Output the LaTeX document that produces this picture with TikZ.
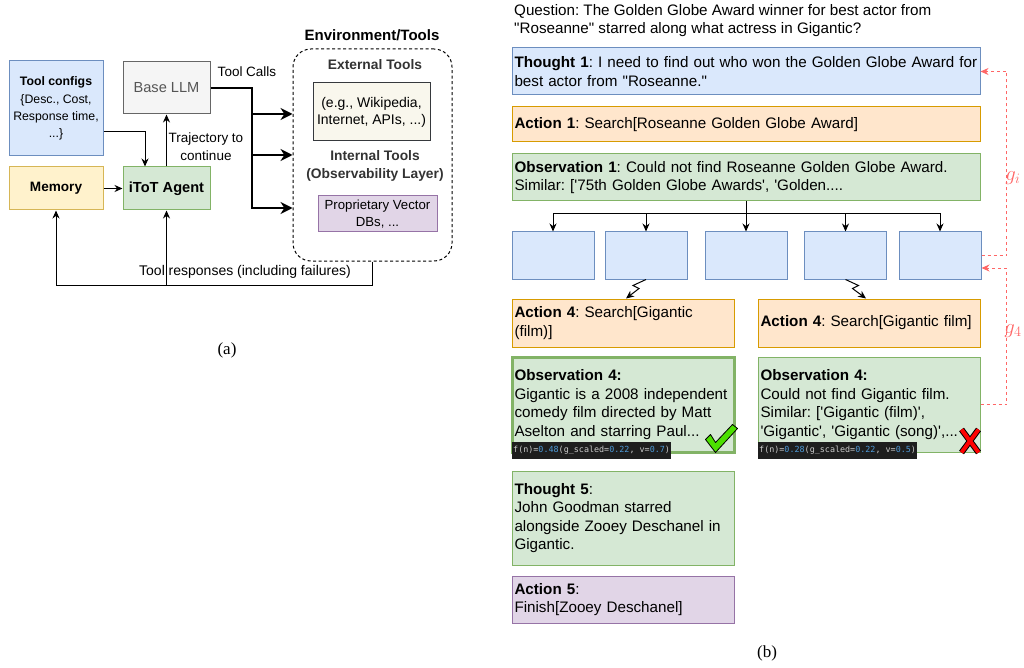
\documentclass[tikz,border=0pt]{standalone}
\usepackage{fontspec}
\setmainfont{Liberation Sans}
\newfontfamily\serifcap{Liberation Serif}
\newfontfamily\codefont{DejaVu Sans Mono}
\usetikzlibrary{arrows.meta,calc}

\definecolor{bluefill}{HTML}{DAE8FC}
\definecolor{blueline}{HTML}{6C8EBF}
\definecolor{orgfill}{HTML}{FFE6CC}
\definecolor{orgline}{HTML}{D79B00}
\definecolor{grnfill}{HTML}{D5E8D4}
\definecolor{grnline}{HTML}{82B366}
\definecolor{ylwfill}{HTML}{FFF2CC}
\definecolor{ylwline}{HTML}{D6B656}
\definecolor{prpfill}{HTML}{E1D5E7}
\definecolor{prpline}{HTML}{9673A6}
\definecolor{gryfill}{HTML}{F5F5F5}
\definecolor{gryline}{HTML}{666666}
\definecolor{grytext}{HTML}{555555}
\definecolor{crmfill}{HTML}{F9F7ED}
\definecolor{crmline}{HTML}{36393D}
\definecolor{gpink}{HTML}{FF6666}
\definecolor{codebg}{HTML}{1E1E1E}
\definecolor{codetxt}{HTML}{CCCCCC}
\definecolor{codenum}{HTML}{4E9AD8}

\newcommand\fsz[2]{\fontsize{#1pt}{#2pt}\selectfont}
\newcommand\sq{\textquotesingle}
\newcommand\dq{\textquotedbl}
\newcommand\num[1]{\textcolor{codenum}{#1}}
\frenchspacing
\hyphenpenalty=10000
\exhyphenpenalty=10000

\begin{document}
\begin{tikzpicture}[x=1pt,y=-1pt,
  blk/.style={draw,rectangle,line width=1pt,align=center,inner sep=1pt},
  card/.style={draw,rectangle,line width=1pt,align=left,inner xsep=2.5pt,inner ysep=1pt,font=\fsz{15.2}{18.4}},
  arr/.style={line width=1pt,-{Stealth[length=8pt,width=7pt]}},
  bigarr/.style={line width=2.5pt,-{Stealth[length=12pt,width=12pt]}},
  garr/.style={gpink,line width=1pt,dash pattern=on 3pt off 3pt,-{Stealth[length=8pt,width=7pt]}},
  code/.style={fill=codebg,text=codetxt,anchor=west,inner xsep=1pt,inner ysep=0pt,minimum height=17pt,font=\codefont\fsz{8.4}{10}}]
\useasboundingbox (0,0) rectangle (1024,668);

% left: agent and its tools
\node[blk,fill=bluefill,draw=blueline,minimum width=94pt,minimum height=95pt,font=\fsz{12.3}{17.3}] (cfg) at (56,108.5)
  {\textbf{Tool configs}\\\{Desc., Cost,\\Response time,\\...\}};
\node[blk,fill=gryfill,draw=gryline,text=grytext,minimum width=87pt,minimum height=52pt,font=\fsz{14.6}{17}] (llm) at (166.5,88) {Base LLM};
\node[blk,fill=ylwfill,draw=ylwline,minimum width=94pt,minimum height=43pt,font=\bfseries\fsz{13.6}{17}] (mem) at (56,188.5) {Memory};
\node[blk,fill=grnfill,draw=grnline,minimum width=87pt,minimum height=43pt,font=\bfseries\fsz{14.6}{17}] (agent) at (166.5,188.5) {iToT Agent};

\node[draw,line width=1pt,dash pattern=on 3pt off 2.5pt,rounded corners=18pt,minimum width=159pt,minimum height=212pt] (env) at (372.5,155) {};
\node[font=\bfseries\fsz{15}{17}] (envtitle) at (372,35) {Environment/Tools};
\node[text=grytext!60!black,font=\bfseries\fsz{13.8}{17}] (extlbl) at (375,65) {External Tools};
\node[blk,fill=crmfill,draw=crmline,minimum width=117pt,minimum height=58pt,font=\fsz{14}{17}] (ext) at (371.5,112) {(e.g., Wikipedia,\\Internet, APIs, ...)};
\node[text=grytext!60!black,align=center,font=\bfseries\fsz{13.8}{18}] (intlbl) at (375,166) {Internal Tools\\(Observability Layer)};
\node[blk,fill=prpfill,draw=prpline,minimum width=119pt,minimum height=36pt,font=\fsz{13.2}{17}] (vec) at (377.5,214) {Proprietary Vector\\DBs, ...};

\coordinate (bus) at (252,0);
\coordinate (in1) at ($(env.west)+(0,-41)$);
\coordinate (in2) at (env.west);
\coordinate (in3) at ($(env.west)+(0,53)$);
\draw[bigarr] (llm.east) -| (bus |- in3) -- (in3);
\draw[bigarr] (bus |- in1) -- (in1);
\draw[bigarr] (bus |- in2) -- (in2);
\node[font=\fsz{13.5}{17}] (calls) at (247,72) {Tool Calls};

\draw[arr] ([yshift=-23.5pt]cfg.east) -| ([xshift=-21.5pt]agent.north);
\draw[arr] (mem.east) -- (agent.west);
\draw[arr] (agent.north) -- (llm.south);
\node[align=center,font=\fsz{13.5}{18}] (traj) at (206,147) {Trajectory to\\continue};

\coordinate (floor) at (0,285);
\draw[arr] (env.south) |- (floor -| mem.south) -- (mem.south);
\draw[arr] (floor -| agent.south) -- (agent.south);
\node[font=\fsz{14}{17}] (resp) at (245,272) {Tool responses (including failures)};

\node[font=\serifcap\fsz{17}{20}] (capa) at (227,350) {(a)};

% right: one search trace
\node[anchor=north west,align=left,inner sep=0pt,font=\fsz{15.2}{18}] (q) at (514,4.5)
  {Question: The Golden Globe Award winner for best actor from\\\dq Roseanne\dq{} starred along what actress in Gigantic?};

\node[card,fill=bluefill,draw=blueline,text width=463pt,minimum height=47pt] (t1) at (746,71.5)
  {\textbf{Thought 1}: I need to find out who won the Golden Globe Award for\\best actor from \dq Roseanne.\dq};
\node[card,fill=orgfill,draw=orgline,text width=463pt,minimum height=35pt] (a1) at (746,124.5)
  {\textbf{Action 1}: Search[Roseanne Golden Globe Award]};
\node[card,fill=grnfill,draw=grnline,text width=463pt,minimum height=47pt] (o1) at (746,177.5)
  {\textbf{Observation 1}: Could not find Roseanne Golden Globe Award.\\Similar: [\sq75th Golden Globe Awards\sq, \sq Golden....};

\foreach \n/\x in {b1/553,b2/646,b3/746,b4/845.5,b5/940}
  \node[blk,fill=bluefill,draw=blueline,minimum width=82pt,minimum height=47pt] (\n) at (\x,255.5) {};

\draw[line width=1pt] (o1.south) -- ++(0,12) coordinate (fork);
\draw[line width=1pt] (fork -| b1.north) -- (fork -| b5.north);
\foreach \n in {b1,b2,b3,b4,b5}
  \draw[arr] (fork -| \n.north) -- (\n.north);

\node[card,fill=orgfill,draw=orgline,text width=217pt,minimum height=48pt] (a4l) at (623,323)
  {\textbf{Action 4}: Search[Gigantic\\(film)]};
\node[card,fill=orgfill,draw=orgline,text width=217pt,minimum height=48pt] (a4r) at (869,323)
  {\textbf{Action 4}: Search[Gigantic film]};
\draw[arr] (b2.south) -- ++(-13,6) -- ++(6,3) -- ([xshift=3pt]a4l.north);
\draw[arr] (b4.south) -- ++(13,6) -- ++(-6,3) -- ([xshift=-3pt]a4r.north);

\node[card,fill=grnfill,draw=grnline,line width=3pt,text width=217pt,minimum height=95pt] (o4l) at (623,404.5)
  {\textbf{Observation 4:}\\Gigantic is a 2008 independent\\comedy film directed by Matt\\Aselton and starring Paul...};
\node[card,fill=grnfill,draw=grnline,text width=217pt,minimum height=95pt] (o4r) at (869,404.5)
  {\textbf{Observation 4:}\\Could not find Gigantic film.\\Similar: [\sq Gigantic (film)\sq,\\\sq Gigantic\sq, \sq Gigantic (song)\sq,...};

\node[code] (fl) at (512,450.5) {f(n)=\num{0.48}(g\_scaled=\num{0.22}, v=\num{0.7})};
\node[code] (fr) at (758,450.5) {f(n)=\num{0.28}(g\_scaled=\num{0.22}, v=\num{0.5})};

\begin{scope}[shift={(o4l.south east)}]
  \filldraw[fill=green!80!black!60!lime,draw=black,line width=0.8pt,line join=round]
    (-30,-14) -- (-25,-19) -- (-20,-11) -- (-3,-29) -- (2,-25) -- (-20,-1) -- cycle;
\end{scope}
\begin{scope}[shift={(o4r.south east)}]
  \draw[black,line width=6pt] (-19,-23) -- (-2,0) (-2,-23) -- (-19,0);
  \draw[red,line width=4pt] (-19,-23) -- (-2,0) (-2,-23) -- (-19,0);
\end{scope}

\node[card,fill=grnfill,draw=grnline,text width=217pt,minimum height=94pt] (t5) at (623,518)
  {\textbf{Thought 5}:\\John Goodman starred\\alongside Zooey Deschanel in\\Gigantic.};
\node[card,fill=prpfill,draw=prpline,text width=217pt,minimum height=47pt] (a5) at (623,599.5)
  {\textbf{Action 5}:\\Finish[Zooey Deschanel]};

\draw[garr] (b5.east) -- ++(25,0) |- (t1.east);
\draw[garr] (o4r.east) -- ++(26,0) |- ([yshift=-12.5pt]b5.east);
\node[text=gpink,font=\fsz{20}{20}] (gi) at (1013,178) {$g_i$};
\node[text=gpink,font=\fsz{20}{20}] (g4) at (1013,331) {$g_4$};

\node[font=\serifcap\fsz{17}{20}] (capb) at (767,653) {(b)};
\end{tikzpicture}
\end{document}
